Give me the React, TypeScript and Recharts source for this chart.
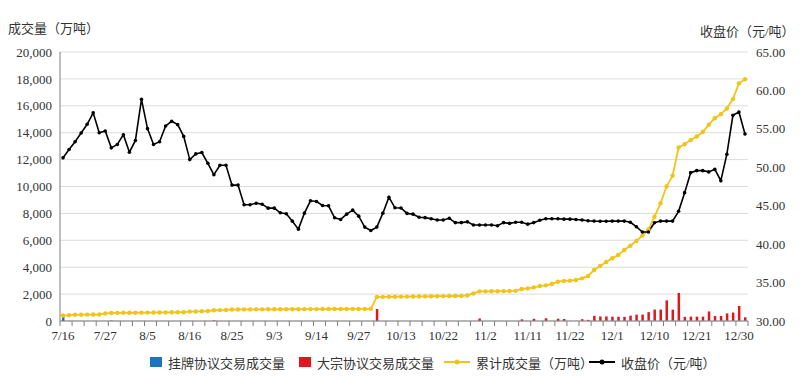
import React from "react";
import {
  ComposedChart,
  Bar,
  Line,
  XAxis,
  YAxis,
  CartesianGrid,
} from "recharts";

// trading days 2021-07-16 .. 2021-12-31
const dates = [
  "7/16", "7/19", "7/20", "7/21", "7/22", "7/23", "7/26", "7/27", "7/28", "7/29", "7/30",
  "8/2", "8/3", "8/4", "8/5", "8/6", "8/9", "8/10", "8/11", "8/12", "8/13", "8/16", "8/17",
  "8/18", "8/19", "8/20", "8/23", "8/24", "8/25", "8/26", "8/27", "8/30", "8/31",
  "9/1", "9/2", "9/3", "9/6", "9/7", "9/8", "9/9", "9/10", "9/13", "9/14", "9/15", "9/16",
  "9/17", "9/22", "9/23", "9/24", "9/27", "9/28", "9/29", "9/30",
  "10/8", "10/11", "10/12", "10/13", "10/14", "10/15", "10/18", "10/19", "10/20", "10/21",
  "10/22", "10/25", "10/26", "10/27", "10/28", "10/29",
  "11/1", "11/2", "11/3", "11/4", "11/5", "11/8", "11/9", "11/10", "11/11", "11/12", "11/15",
  "11/16", "11/17", "11/18", "11/19", "11/22", "11/23", "11/24", "11/25", "11/26", "11/29", "11/30",
  "12/1", "12/2", "12/3", "12/6", "12/7", "12/8", "12/9", "12/10", "12/13", "12/14", "12/15",
  "12/16", "12/17", "12/20", "12/21", "12/22", "12/23", "12/24", "12/27", "12/28", "12/29",
  "12/30", "12/31",
];

// 挂牌协议交易成交量 (万吨)
const listedVolume = [
  410, 13, 8, 6, 5, 4, 3, 6, 4, 3, 3, 2, 2, 3, 2, 2, 2, 3, 2, 2, 2, 3, 2, 2, 2, 3,
  2, 2, 2, 3, 2, 2, 2, 2, 2, 2, 2, 2, 2, 2, 2, 2, 2, 2, 2, 2, 2, 2, 2, 2, 2, 2, 3,
  2, 2, 2, 2, 2, 2, 2, 2, 2, 2, 2, 2, 2, 2, 2, 3, 4, 3, 3, 3, 3, 3, 3, 4, 4, 5, 5,
  6, 6, 8, 8, 9, 10, 12, 14, 15, 18, 20, 22, 25, 28, 30, 32, 35, 38, 40, 38, 36, 35,
  30, 28, 26, 25, 24, 22, 20, 22, 25, 28, 30, 26,
];

// 大宗协议交易成交量 (万吨)
const blockVolume = [
  0, 0, 0, 0, 0, 0, 0, 0, 30, 0, 0, 0, 0, 0, 0, 0, 0, 0, 0, 0, 0, 0, 0, 0, 0, 40,
  0, 0, 0, 0, 0, 0, 0, 0, 0, 0, 0, 0, 0, 0, 0, 0, 0, 0, 0, 0, 0, 0, 0, 0, 0, 0, 890,
  0, 0, 0, 0, 0, 0, 0, 0, 0, 0, 0, 0, 0, 0, 0, 0, 180, 0, 0, 0, 0, 0, 0, 120, 0, 160,
  0, 200, 0, 160, 140, 0, 0, 120, 70, 370, 320, 320, 300, 290, 280, 370, 440, 440, 620,
  810, 810, 1500, 810, 2050, 280, 300, 300, 300, 690, 350, 350, 540, 600, 1090, 250,
];

// 累计成交量 (万吨)
const cumulativeVolume = [
  410, 430, 460, 470, 475, 480, 485, 560, 600, 605, 610, 612, 615, 620, 625, 630,
  635, 640, 645, 650, 655, 700, 710, 720, 740, 800, 810, 820, 850, 860, 861, 863,
  866, 868, 869, 871, 874, 876, 877, 879, 882, 884, 885, 887, 890, 892, 893, 895,
  898, 900, 901, 904, 1790, 1795, 1800, 1804, 1810, 1815, 1825, 1830, 1834, 1840,
  1845, 1850, 1856, 1860, 1865, 1900, 2050, 2200, 2205, 2210, 2215, 2220, 2225,
  2240, 2380, 2420, 2500, 2600, 2650, 2750, 2920, 2980, 3000, 3050, 3170, 3350,
  3790, 4090, 4390, 4660, 4910, 5280, 5600, 5950, 6350, 6800, 7750, 8750, 10000,
  10800, 12900, 13140, 13460, 13720, 14050, 14600, 15070, 15380, 15800, 16500,
  17670, 17970,
];

// 收盘价 (元/吨)
const closePrice = [
  51.23, 52.31, 53.32, 54.46, 55.59, 57.08, 54.5, 54.72, 52.53, 52.97, 54.24, 51.96,
  53.49, 58.83, 55.03, 52.97, 53.32, 55.38, 55.99, 55.55, 54.02, 51.0, 51.74, 51.92,
  50.52, 49.03, 50.26, 50.26, 47.68, 47.68, 45.12, 45.12, 45.33, 45.2, 44.68, 44.68,
  44.08, 43.95, 42.99, 41.95, 44.03, 45.64, 45.55, 45.03, 44.99, 43.43, 43.21, 43.9,
  44.42, 43.64, 42.22, 41.78, 42.22, 44.03, 46.11, 44.73, 44.7, 44.0, 43.9, 43.5,
  43.45, 43.3, 43.14, 43.14, 43.36, 42.8, 42.8, 42.9, 42.5, 42.5, 42.5, 42.5, 42.4,
  42.8, 42.7, 42.85, 42.85, 42.6, 42.8, 43.1, 43.3, 43.3, 43.3, 43.25, 43.25, 43.2,
  43.14, 43.05, 43.0, 42.98, 42.98, 43.0, 43.0, 43.0, 42.84, 42.27, 41.58, 41.58,
  42.79, 43.0, 43.0, 43.0, 44.27, 46.7, 49.3, 49.56, 49.56, 49.4, 49.73, 48.25, 51.7,
  56.76, 57.2, 54.33,
];

const volumeTicks = [0, 2000, 4000, 6000, 8000, 10000, 12000, 14000, 16000, 18000, 20000];
const priceTicks = [30, 35, 40, 45, 50, 55, 60, 65];

const data = dates.map((date, i) => ({
  date,
  listed: listedVolume[i],
  block: blockVolume[i],
  cumulative: cumulativeVolume[i],
  close: closePrice[i],
}));

const W = 800;
const H = 383;
const PLOT_LEFT = 60;
const PLOT_RIGHT = 748;
const PLOT_TOP = 52;
const PLOT_BOTTOM = 321;
const X_AXIS_H = 30;
const BAND = (PLOT_RIGHT - PLOT_LEFT) / dates.length;

const numFont = "'Liberation Serif', 'Times New Roman', serif";
const cjkFont = "'Liberation Serif', 'Noto Sans CJK SC', serif";
const axisGray = "#7f7f7f";
const textColor = "#333";

const YELLOW = "#F0C419";
const RED = "#E3161D";
const BLUE = "#1F74BF";

// tick marks every 2 days at band edges, labels every 7 days
const DateTick = (props: any) => {
  const { x, payload } = props;
  const i = payload.index;
  const edge = x - BAND / 2;
  return (
    <g>
      {i % 2 === 0 && (
        <line x1={edge} x2={edge} y1={PLOT_BOTTOM} y2={PLOT_BOTTOM + 5} stroke={axisGray} />
      )}
      {i === dates.length - 1 && (
        <line
          x1={x + BAND / 2}
          x2={x + BAND / 2}
          y1={PLOT_BOTTOM}
          y2={PLOT_BOTTOM + 5}
          stroke={axisGray}
        />
      )}
      {i % 7 === 0 && (
        <text
          x={x}
          y={PLOT_BOTTOM + 19}
          textAnchor="middle"
          fontSize={13}
          fontFamily={numFont}
          fill={textColor}
        >
          {payload.value}
        </text>
      )}
    </g>
  );
};

const legendItems = [
  { label: "挂牌协议交易成交量", kind: "box", color: BLUE, left: 150 },
  { label: "大宗协议交易成交量", kind: "box", color: RED, left: 299 },
  { label: "累计成交量（万吨）", kind: "line", color: YELLOW, left: 444 },
  { label: "收盘价（元/吨）", kind: "line", color: "#000", left: 589 },
];

const Legend = () => (
  <>
    {legendItems.map((it) => (
      <div
        key={it.label}
        style={{
          position: "absolute",
          left: it.left,
          top: 354,
          height: 16,
          display: "flex",
          alignItems: "center",
          fontFamily: cjkFont,
          fontSize: 13,
          color: textColor,
          whiteSpace: "nowrap",
        }}
      >
        {it.kind === "box" ? (
          <span
            style={{ width: 12, height: 10, background: it.color, marginRight: 6 }}
          />
        ) : (
          <svg width={26} height={10} style={{ marginRight: 6 }}>
            <line x1={0} x2={26} y1={5} y2={5} stroke={it.color} strokeWidth={2} />
            <circle cx={13} cy={5} r={2.5} fill={it.color} />
          </svg>
        )}
        {it.label}
      </div>
    ))}
  </>
);

const App: React.FC = () => {
  return (
    <div
      style={{
        position: "absolute",
        left: 0,
        top: 0,
        width: W,
        height: H,
        background: "#fff",
      }}
    >
      <div
        style={{
          position: "absolute",
          left: 8,
          top: 18,
          fontFamily: cjkFont,
          fontSize: 13,
          color: textColor,
        }}
      >
        成交量（万吨）
      </div>
      <div
        style={{
          position: "absolute",
          left: 700,
          top: 21,
          fontFamily: cjkFont,
          fontSize: 13,
          color: textColor,
        }}
      >
        收盘价（元/吨）
      </div>
      <ComposedChart
        width={W}
        height={H}
        data={data}
        margin={{ top: PLOT_TOP, right: 0, left: 0, bottom: H - PLOT_BOTTOM - X_AXIS_H }}
        barCategoryGap={0}
      >
        <CartesianGrid yAxisId="vol" vertical={false} stroke="#dcdcdc" />
        <XAxis
          dataKey="date"
          interval={0}
          height={X_AXIS_H}
          tickLine={false}
          axisLine={{ stroke: axisGray }}
          tick={<DateTick />}
        />
        <YAxis
          yAxisId="vol"
          orientation="left"
          width={PLOT_LEFT}
          domain={[0, 20000]}
          ticks={volumeTicks}
          interval={0}
          tickLine={false}
          axisLine={{ stroke: axisGray }}
          tickFormatter={(v: number) => v.toLocaleString("en-US")}
          tick={{ fontSize: 13, fontFamily: numFont, fill: textColor }}
        />
        <YAxis
          yAxisId="price"
          orientation="right"
          width={W - PLOT_RIGHT}
          domain={[30, 65]}
          ticks={priceTicks}
          interval={0}
          tickLine={false}
          axisLine={false}
          tickFormatter={(v: number) => v.toFixed(2)}
          tick={{ fontSize: 13, fontFamily: numFont, fill: textColor }}
        />
        <Bar
          yAxisId="vol"
          dataKey="listed"
          stackId="v"
          fill={BLUE}
          barSize={2.5}
          isAnimationActive={false}
        />
        <Bar
          yAxisId="vol"
          dataKey="block"
          stackId="v"
          fill={RED}
          barSize={2.5}
          isAnimationActive={false}
        />
        <Line
          yAxisId="vol"
          dataKey="cumulative"
          stroke={YELLOW}
          strokeWidth={1.8}
          dot={{ r: 2.2, fill: YELLOW, stroke: "none" }}
          activeDot={false}
          isAnimationActive={false}
        />
        <Line
          yAxisId="price"
          dataKey="close"
          stroke="#000"
          strokeWidth={1.6}
          dot={{ r: 1.8, fill: "#000", stroke: "none" }}
          activeDot={false}
          isAnimationActive={false}
        />
      </ComposedChart>
      <Legend />
    </div>
  );
};

export default App;
